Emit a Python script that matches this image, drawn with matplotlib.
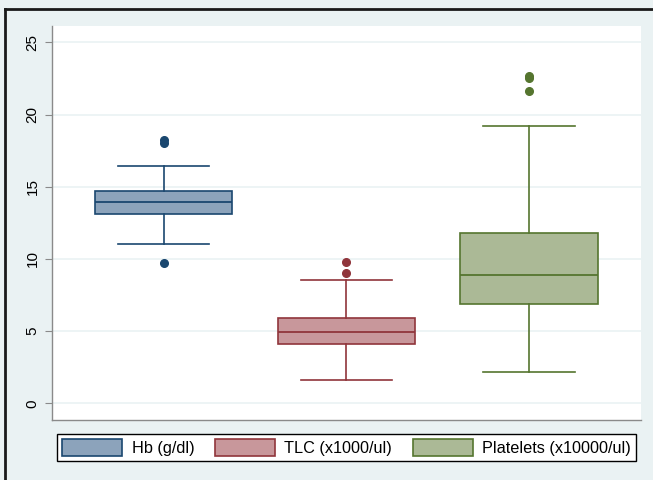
import matplotlib
matplotlib.use("Agg")
import matplotlib.pyplot as plt
from matplotlib.patches import Patch
from matplotlib.lines import Line2D

plt.rcParams['font.family'] = ['Liberation Sans', 'DejaVu Sans']

labels = ["Hb (g/dl)", "TLC (x1000/ul)", "Platelets (x10000/ul)"]
q1 = [13.13, 4.13, 6.88]
med = [13.94, 4.92, 8.90]
q3 = [14.72, 5.91, 11.81]
whislo = [11.03, 1.61, 2.19]
whishi = [16.45, 8.52, 19.20]
fliers = [[18.0, 18.2, 9.69], [9.0, 9.81], [21.65, 22.5, 22.7]]
yticks = [0, 5, 10, 15, 20, 25]

edge_colors = ["#1a476f", "#90353b", "#55752f"]
fill_colors = ["#8ca3bb", "#c8979b", "#abb996"]
bg = "#eaf2f3"

fig = plt.figure(figsize=(6.53, 4.80), dpi=100, facecolor=bg)
ax = fig.add_axes([52/653, 1-420/480, (641-52)/653, (420-26)/480])
ax.set_facecolor("white")

stats = []
for i in range(3):
    stats.append(dict(label=labels[i], q1=q1[i], med=med[i], q3=q3[i],
                      whislo=whislo[i], whishi=whishi[i], fliers=fliers[i]))

for i, s in enumerate(stats):
    c = edge_colors[i]
    ax.bxp([s], positions=[i+1], widths=0.75, patch_artist=True,
           showfliers=True,
           boxprops=dict(facecolor=fill_colors[i], edgecolor=c, linewidth=1.2),
           medianprops=dict(color=c, linewidth=1.3),
           whiskerprops=dict(color=c, linewidth=1.2),
           capprops=dict(color=c, linewidth=1.2),
           capwidths=0.5,
           flierprops=dict(marker='o', markerfacecolor=c, markeredgecolor=c, markersize=5.5))

ax.set_xlim(0.389, 3.613)
ax.set_ylim(-1.16, 26.13)
ax.set_yticks(yticks)
ax.set_yticklabels([str(t) for t in yticks], rotation=90, va='center', fontsize=11)
ax.set_xticks([])
ax.yaxis.grid(True, color=bg, linewidth=1.2)
ax.set_axisbelow(True)
for sp in ['top', 'right']:
    ax.spines[sp].set_visible(False)
for sp in ['left', 'bottom']:
    ax.spines[sp].set_color("#8a8a8a")
    ax.spines[sp].set_linewidth(1.0)
ax.tick_params(axis='y', length=5, color="#8a8a8a", pad=4)

handles = [Patch(facecolor=fill_colors[i], edgecolor=edge_colors[i], linewidth=1.2) for i in range(3)]
leg = fig.legend(handles, labels, ncol=3, mode='expand',
                 bbox_to_anchor=(57/653, 1-461/480, (636-57)/653, (461-431)/480),
                 loc='lower left', fontsize=11.7, frameon=True, fancybox=False,
                 edgecolor='black', framealpha=1, borderaxespad=0,
                 handlelength=3.7, handleheight=1.2, handletextpad=0.6,
                 borderpad=0.3)
leg.get_frame().set_linewidth(1.0)

fig.add_artist(Line2D([5/653, 1.0], [1-9/480, 1-9/480], transform=fig.transFigure, color='#1a1a1a', linewidth=2.0))
fig.add_artist(Line2D([5/653, 5/653], [0, 1-9/480], transform=fig.transFigure, color='#1a1a1a', linewidth=2.0))

fig.savefig("out.png", dpi=100, facecolor=bg)
